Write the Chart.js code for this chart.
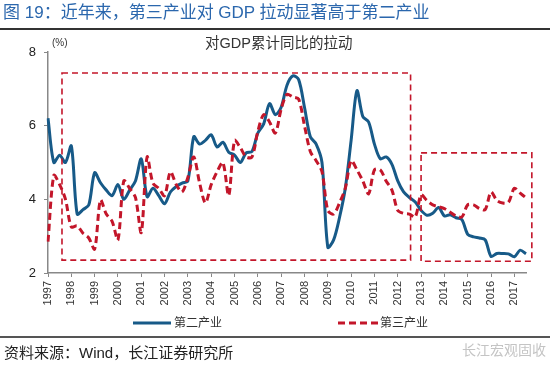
<!DOCTYPE html>
<html>
<head>
<meta charset="utf-8">
<script src="https://cdn.jsdelivr.net/npm/chart.js@4"></script>
<style>
  html, body { margin: 0; padding: 0; background: #fff; }
  body { width: 550px; height: 368px; position: relative; overflow: hidden;
         font-family: "Liberation Sans", "Noto Sans CJK SC", sans-serif; }
  #wrap { position: absolute; left: 0; top: 0; width: 550px; height: 368px; }
  .txt { position: absolute; white-space: nowrap; line-height: 1; }
  #title { left: 3px; top: 4px; font-size: 17px; color: #2b67ad; }
  #rule1 { position: absolute; left: 0; top: 28px; width: 550px; height: 2px; background: #333; }
  #rule2 { position: absolute; left: 0; top: 336px; width: 550px; height: 1.5px; background: #555; }
  #ctitle { left: 205px; top: 36px; font-size: 14.5px; color: #333; }
  #unit { left: 52px; top: 38px; font-size: 10px; color: #333; }
  #leg1 { left: 174px; top: 317px; font-size: 12px; color: #333; }
  #leg2 { left: 380px; top: 317px; font-size: 12px; color: #333; }
  #source { left: 4px; top: 345px; font-size: 15px; color: #222; }
  #mark { left: 462px; top: 343px; font-size: 14px; color: #c4c4c4; }
</style>
</head>
<body>
<div id="wrap"><canvas id="gdpChart" width="550" height="368"></canvas></div>
<div id="title" class="txt">图 19：近年来，第三产业对 GDP 拉动显著高于第二产业</div>
<div id="rule1"></div>
<div id="ctitle" class="txt">对GDP累计同比的拉动</div>
<div id="unit" class="txt">(%)</div>
<div id="leg1" class="txt">第二产业</div>
<div id="leg2" class="txt">第三产业</div>
<div id="rule2"></div>
<div id="source" class="txt">资料来源：Wind，长江证券研究所</div>
<div id="mark" class="txt">长江宏观固收</div>
<script>
// 年份（季度数据，1997Q1 - 2017Q3）
const years = ['1997', '1998', '1999', '2000', '2001', '2002', '2003', '2004', '2005', '2006', '2007',
  '2008', '2009', '2010', '2011', '2012', '2013', '2014', '2015', '2016', '2017'];

const quarters = [];
years.forEach(y => {
  ['Q1', 'Q2', 'Q3', 'Q4'].forEach(q => quarters.push(y + q));
});
quarters.length = 83;

// 第二产业对GDP累计同比的拉动 (%)
const secondary = [
  6.2, 5.0, 5.2, 5.0, 5.45, 3.6, 3.72, 3.85,
  4.72, 4.45, 4.25, 4.1, 4.4, 4.0, 4.25, 4.5,
  5.1, 4.07, 4.3, 4.1, 3.88, 4.2, 4.35, 4.44,
  4.5, 5.7, 5.5, 5.6, 5.75, 5.42, 5.55, 5.28,
  5.2, 5.0, 5.26, 5.3, 5.8, 6.05, 6.6, 6.3,
  6.5, 7.1, 7.35, 7.25, 6.5, 5.7, 5.5, 5.0,
  2.7, 2.9, 3.5, 4.3, 5.6, 6.95, 6.25, 6.1,
  5.5, 5.1, 5.15, 4.95, 4.5, 4.2, 4.05, 3.93,
  3.7, 3.57, 3.62, 3.78, 3.55, 3.58, 3.5, 3.45,
  3.05, 2.98, 2.95, 2.9, 2.45, 2.53, 2.53, 2.52,
  2.44, 2.62, 2.52
];

// 第三产业对GDP累计同比的拉动 (%)
const tertiary = [
  2.85, 4.65, 4.4, 4.0, 3.25, 3.28, 3.08, 2.95,
  2.65, 3.98, 3.6, 3.4, 2.9, 4.5, 4.3, 4.05,
  3.1, 5.15, 4.44, 4.3, 4.1, 4.75, 4.4, 4.2,
  4.6, 5.15, 4.45, 3.9, 4.4, 4.75, 5.0, 4.1,
  5.6, 5.4, 5.15, 5.15, 5.85, 6.3, 6.1, 5.8,
  6.45, 6.85, 6.78, 6.72, 6.0, 5.3, 5.05, 4.75,
  3.7, 3.6, 3.9, 4.3, 5.05, 4.8, 4.5, 4.15,
  4.8, 4.8, 4.5, 4.25, 3.7, 3.62, 3.6, 3.52,
  4.12, 3.97, 3.85, 3.8, 3.75, 3.65, 3.55, 3.52,
  3.85, 3.85, 3.75, 3.72, 4.2, 3.97, 3.9, 3.92,
  4.3, 4.17, 4.04
];

// 虚线框（季度序号，数值）
const boxes = [
  { x0: 2.4, x1: 62.2, y0: 2.35, y1: 7.43 },
  { x0: 64, x1: 83, y0: 2.32, y1: 5.26 }
];

const blue = '#175a88';
const red = '#c3162a';

// 虚线框和图例线
const extras = {
  id: 'extras',
  afterDatasetsDraw(chart) {
    const { ctx, scales: { x, y } } = chart;
    ctx.save();
    ctx.strokeStyle = red;
    ctx.lineWidth = 1.6;
    ctx.setLineDash([6, 4]);
    boxes.forEach(b => {
      const l = x.getPixelForValue(b.x0);
      const r = x.getPixelForValue(b.x1);
      const t = y.getPixelForValue(b.y1);
      const btm = y.getPixelForValue(b.y0);
      ctx.strokeRect(l, t, r - l, btm - t);
    });
    ctx.restore();
  },
  afterDraw(chart) {
    const { ctx } = chart;
    const ds = chart.data.datasets;
    ctx.save();
    ctx.lineWidth = 3;
    ctx.strokeStyle = ds[0].borderColor;
    ctx.beginPath();
    ctx.moveTo(133, 323);
    ctx.lineTo(171, 323);
    ctx.stroke();
    ctx.strokeStyle = ds[1].borderColor;
    ctx.setLineDash(ds[1].borderDash);
    ctx.beginPath();
    ctx.moveTo(338, 323);
    ctx.lineTo(378, 323);
    ctx.stroke();
    ctx.restore();
  }
};

const ctx = document.getElementById('gdpChart').getContext('2d');
const gdpChart = new Chart(ctx, {
  type: 'line',
  data: {
    labels: quarters,
    datasets: [
      {
        label: '第二产业',
        data: secondary,
        borderColor: blue,
        borderWidth: 3,
        pointRadius: 0,
        tension: 0.3,
        order: 1
      },
      {
        label: '第三产业',
        data: tertiary,
        borderColor: red,
        borderWidth: 3,
        borderDash: [7, 4],
        pointRadius: 0,
        tension: 0.3,
        order: 0
      }
    ]
  },
  options: {
    responsive: false,
    animation: false,
    layout: { padding: { top: 52, right: 24, left: 0, bottom: 0 } },
    plugins: {
      legend: { display: false },
      tooltip: { enabled: false }
    },
    scales: {
      x: {
        type: 'category',
        offset: false,
        afterFit: s => { s.height = 95; },
        border: { color: '#888', width: 1.5 },
        grid: { drawOnChartArea: false, tickLength: 4, color: '#888', lineWidth: 1 },
        ticks: {
          autoSkip: false,
          minRotation: 90,
          maxRotation: 90,
          padding: 4,
          color: '#333',
          font: { family: 'Liberation Sans', size: 11 },
          callback: (v, i) => (i % 4 === 0 ? quarters[i].slice(0, 4) : null)
        }
      },
      y: {
        min: 2,
        max: 8,
        afterFit: s => { s.width = 48; },
        border: { color: '#888', width: 1.5 },
        grid: { drawOnChartArea: false, tickLength: 4, color: '#888' },
        ticks: {
          stepSize: 2,
          padding: 8,
          color: '#222',
          font: { family: 'Liberation Sans', size: 13 }
        }
      }
    }
  },
  plugins: [extras]
});
</script>
</body>
</html>
